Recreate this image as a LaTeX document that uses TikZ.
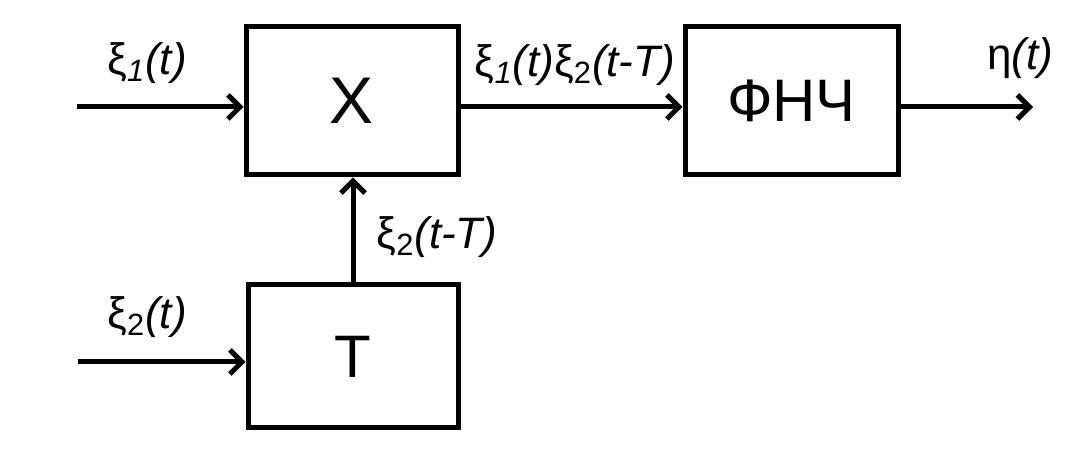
\documentclass[tikz,border=0pt]{standalone}
\usepackage{fontspec}
\setmainfont{Liberation Sans}
\usetikzlibrary{arrows.meta}
\newcommand{\gr}[1]{{\upshape #1}}
\tikzset{
  block/.style={draw,line width=2.5pt,inner sep=0pt,font=\fontsize{30}{30}\selectfont},
  sig/.style={line width=2.5pt,-{Straight Barb[length=6pt,width=12pt]}},
  lbl/.style={inner sep=0pt,font=\fontsize{22}{22}\selectfont\itshape}
}
\begin{document}
\begin{tikzpicture}
  [x=0.5pt,y=0.5pt]
  \useasboundingbox (0,0) rectangle (1080,458);
  \node[block,minimum width=106pt,minimum height=74pt] (mult) at (352,357) {\fontsize{33}{33}\selectfont X};
  \node[block,minimum width=106.5pt,minimum height=74pt] (lpf) at (791.5,357) {ФНЧ};
  \node[block,minimum width=105pt,minimum height=71.5pt] (delay) at (353,101.5) {T};
  \coordinate (in1) at (77,351);
  \coordinate (in2) at (78,96);
  \coordinate (out) at (1033,351);
  \draw[sig] (in1) -- (in1 -| mult.west);
  \draw[sig] (mult.east |- in1) -- (lpf.west |- in1);
  \draw[sig] (lpf.east |- in1) -- (out);
  \draw[sig] (in2) -- (in2 -| delay.west);
  \draw[sig] (delay.north) -- (delay.north |- mult.south);
  \node[lbl] (xi1) at (147,395) {\gr{ξ}\textsubscript{1}(t)};
  \node[lbl] (xi2) at (147,141) {\gr{ξ}\textsubscript{\upshape 2}(t)};
  \node[lbl] (xi2d) at (437,221) {\gr{ξ}\textsubscript{\upshape 2}(t-T)};
  \node[lbl] (prod) at (575,393) {\gr{ξ}\textsubscript{1}(t)\gr{ξ}\textsubscript{\upshape 2}(t-T)};
  \node[lbl] (eta) at (1020,400) {\gr{η}(t)};
\end{tikzpicture}
\end{document}
